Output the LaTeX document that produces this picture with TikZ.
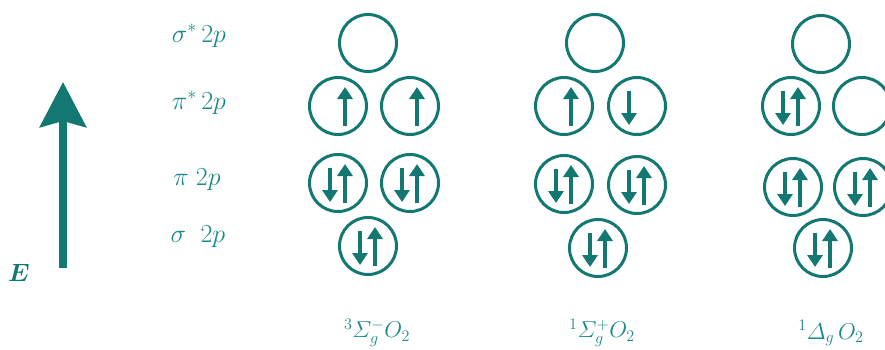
\documentclass[tikz,border=0pt]{standalone}
\usepackage{fix-cm}
\usepackage{amsmath,bm}
\usetikzlibrary{arrows.meta}
\definecolor{orbc}{HTML}{137772}
\definecolor{txtc}{HTML}{1A8A86}
\tikzset{
  orb/.style={circle,draw=orbc,line width=3pt,minimum size=57pt,inner sep=0pt},
  spin/.style={orbc,line width=3.5pt,-{Triangle[length=12pt,width=15pt]}},
  lvl/.style={text=txtc,font=\fontsize{26}{30}\selectfont,anchor=center},
  state/.style={text=txtc,font=\fontsize{23}{27}\selectfont,anchor=center},
}
\newcommand{\spinup}[1]{\draw[spin] ([xshift=7pt,yshift=-20pt]#1.center) -- ([xshift=7pt,yshift=19pt]#1.center);}
\newcommand{\spindn}[1]{\draw[spin] ([xshift=-8pt,yshift=15pt]#1.center) -- ([xshift=-8pt,yshift=-19pt]#1.center);}
\begin{document}
\begin{tikzpicture}[x=1pt,y=-1pt]
\useasboundingbox (0,0) rectangle (885,349);
% energy arrow
\coordinate (eb) at (63,268);
\coordinate (et) at (63,82);
\draw[orbc,line width=8pt,-{Stealth[length=45pt,width=46pt,inset=6pt]}] (eb) -- (et);
\node[text=orbc,font=\fontsize{25}{29}\selectfont] (E) at (19,273) {$\bm{E}$};
% level labels
\node[lvl] (l1) at (199,36) {$\sigma^{*}\,2p$};
\node[lvl] (l2) at (199,103) {$\pi^{*}\,2p$};
\node[lvl] (l3) at (197,180) {$\pi\;2p$};
\node[lvl] (l4) at (198,237) {$\sigma\;\;2p$};
% group 1
\node[orb] (a1) at (368,43) {};
\node[orb] (a2) at (338,106) {};
\node[orb] (a3) at (410,106) {};
\node[orb] (a4) at (338,183) {};
\node[orb] (a5) at (410,183) {};
\node[orb] (a6) at (368,246) {};
\spinup{a2}\spinup{a3}
\spindn{a4}\spinup{a4}\spindn{a5}\spinup{a5}\spindn{a6}\spinup{a6}
% group 2
\node[orb] (b1) at (595,43) {};
\node[orb] (b2) at (564,106) {};
\node[orb] (b3) at (637,106) {};
\node[orb] (b4) at (564,184) {};
\node[orb] (b5) at (637,185) {};
\node[orb] (b6) at (598,248) {};
\spinup{b2}\spindn{b3}
\spindn{b4}\spinup{b4}\spindn{b5}\spinup{b5}\spindn{b6}\spinup{b6}
% group 3
\node[orb] (c1) at (821,44) {};
\node[orb] (c2) at (791,106) {};
\node[orb] (c3) at (862,106) {};
\node[orb] (c4) at (793,187) {};
\node[orb] (c5) at (863,187) {};
\node[orb] (c6) at (823,248) {};
\spindn{c2}\spinup{c2}
\spindn{c4}\spinup{c4}\spindn{c5}\spinup{c5}\spindn{c6}\spinup{c6}
% state labels
\node[state] (s1) at (377,333) {$^{3}\varSigma_{g}^{-}O_{2}$};
\node[state] (s2) at (602,333) {$^{1}\varSigma_{g}^{+}O_{2}$};
\node[state] (s3) at (831,333) {$^{1}\varDelta_{g}\,O_{2}$};
\end{tikzpicture}
\end{document}
